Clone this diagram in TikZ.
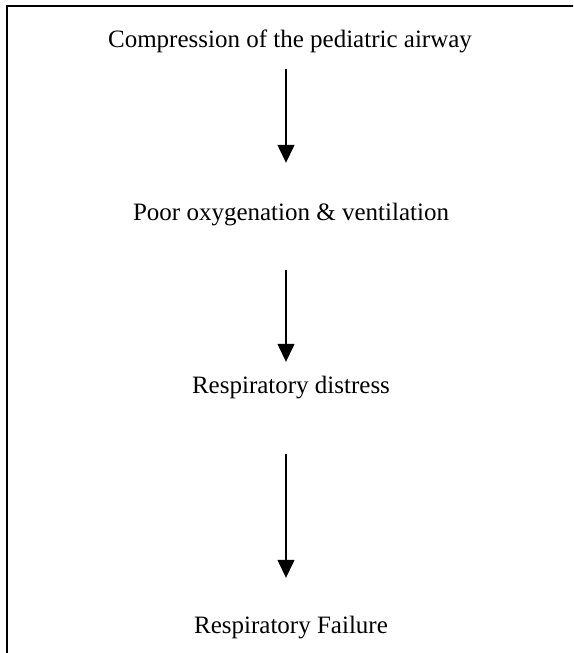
\documentclass[tikz,border=0pt]{standalone}
\usepackage{fontspec}
\setmainfont{Liberation Serif}
\usetikzlibrary{arrows.meta}
\begin{document}
\begin{tikzpicture}[x=1pt,y=-1pt,
  stage/.style={anchor=base,inner sep=0pt,text height=18pt,text depth=6pt,
    font=\fontsize{25}{30}\selectfont},
  flow/.style={line width=1.3pt,-{Triangle[width=17pt,length=18pt]}}]
\useasboundingbox (0,0) rectangle (573,653);
\begin{scope}
  \clip (0,0) rectangle (573,653);
  % open frame: only the top and left edges fall inside the page
  \draw[line width=1.5pt] (7,660) -- (7,6) -- (580,6);
\end{scope}
\node[stage] (comp) at (290,47) {Compression of the pediatric airway};
\node[stage] (oxy)  at (291,220) {Poor oxygenation \& ventilation};
\node[stage] (dist) at (291,393) {Respiratory distress};
\node[stage] (fail) at (291,633) {Respiratory Failure};
\draw[flow,shorten <=16pt,shorten >=39pt] (comp.south -| 286,0) -- (oxy.north -| 286,0);
\draw[flow,shorten <=44pt,shorten >=13pt] (oxy.south -| 286,0) -- (dist.north -| 286,0);
\draw[flow,shorten <=55pt,shorten >=37pt] (dist.south -| 286,0) -- (fail.north -| 286,0);
\end{tikzpicture}
\end{document}
